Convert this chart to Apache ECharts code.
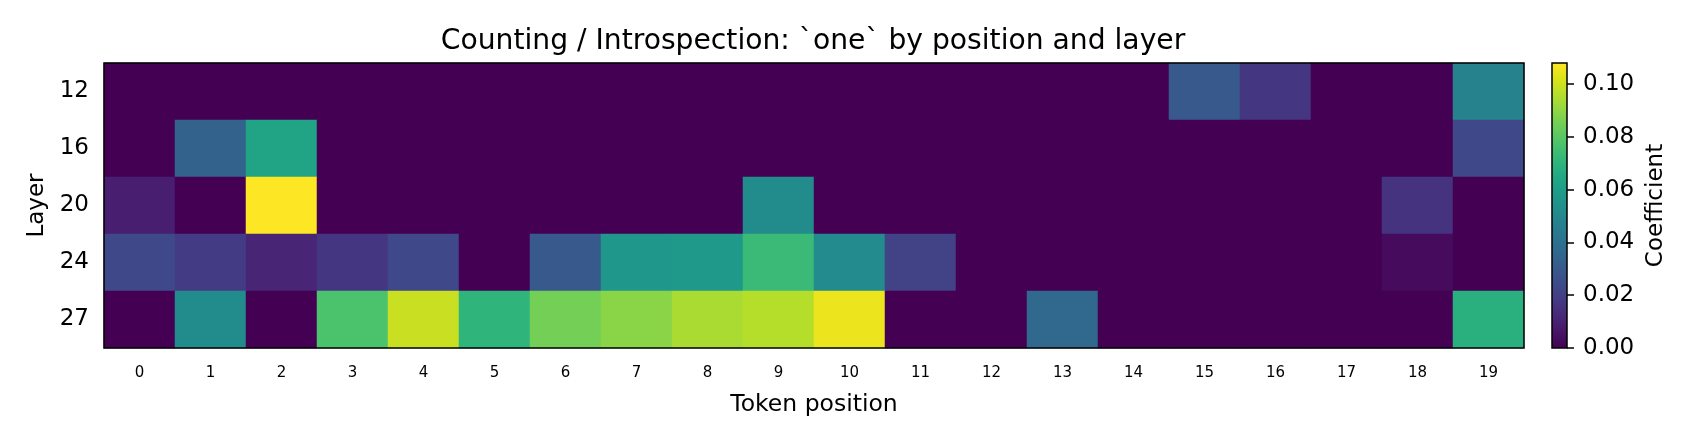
<!DOCTYPE html>
<html>
<head>
<meta charset="utf-8">
<script src="https://cdn.jsdelivr.net/npm/echarts@6/dist/echarts.min.js"></script>
<style>
html, body { margin: 0; padding: 0; background: #fff; }
#chart { width: 1700px; height: 442px; }
</style>
</head>
<body>
<div id="chart"></div>
<script>
// token positions (x) and layers (y, top to bottom)
let positions = ['0','1','2','3','4','5','6','7','8','9','10','11','12','13','14','15','16','17','18','19'];
let layers = ['12', '16', '20', '24', '27'];

// coefficient per layer, one value per token position
let layer12 = [0, 0, 0, 0, 0, 0, 0, 0, 0, 0, 0, 0, 0, 0, 0, 0.030, 0.017, 0, 0, 0.048];
let layer16 = [0, 0.034, 0.063, 0, 0, 0, 0, 0, 0, 0, 0, 0, 0, 0, 0, 0, 0, 0, 0, 0.023];
let layer20 = [0.009, 0, 0.108, 0, 0, 0, 0, 0, 0, 0.052, 0, 0, 0, 0, 0, 0, 0, 0, 0.016, 0];
let layer24 = [0.023, 0.019, 0.011, 0.017, 0.023, 0, 0.030, 0.057, 0.058, 0.073, 0.051, 0.021, 0, 0, 0, 0, 0, 0, 0.003, 0];
let layer27 = [0, 0.052, 0, 0.077, 0.099, 0.070, 0.085, 0.089, 0.094, 0.096, 0.105, 0, 0, 0.036, 0, 0, 0, 0, 0, 0.068];

let vMin = 0, vMax = 0.108;
let cbTicks = [0, 0.02, 0.04, 0.06, 0.08, 0.10];

let viridis = ['#440154','#471365','#482475','#463480','#414487','#3b528b','#355f8d','#2f6c8e',
               '#2a788e','#25848e','#21918c','#1e9c89','#22a884','#2fb47c','#44bf70','#5ec962',
               '#7ad151','#9bd93c','#bddf26','#dfe318','#fde725'];

let rows = [layer12, layer16, layer20, layer24, layer27];
let cells = [];
rows.forEach((row, y) => {
    row.forEach((v, x) => {
        cells.push([x, y, v]);
    });
});

let stops = viridis.map((c, i) => ({offset: i / (viridis.length - 1), color: c}));
let font = '"DejaVu Sans", sans-serif';

let chart = echarts.init(document.getElementById('chart'), null, {renderer: 'canvas'});
chart.setOption({
    animation: false,
    textStyle: {fontFamily: font, color: '#000'},
    graphic: [
        {
            type: 'text',
            x: 813,
            y: 41.5,
            style: {
                text: 'Counting / Introspection: `one` by position and layer',
                font: '28.2px ' + font,
                fill: '#000',
                align: 'center',
                verticalAlign: 'middle'
            }
        }
    ],
    grid: [
        {left: 104, top: 63, width: 1420, height: 285, show: true, borderColor: '#000', borderWidth: 1.5, z: 5},
        {left: 1552, top: 63, width: 15, height: 285, show: true, borderColor: '#000', borderWidth: 1.5, z: 5}
    ],
    visualMap: {
        show: false,
        seriesIndex: 0,
        min: vMin,
        max: vMax,
        inRange: {color: viridis}
    },
    xAxis: [
        {
            type: 'category',
            gridIndex: 0,
            data: positions,
            name: 'Token position',
            nameLocation: 'middle',
            nameGap: 45,
            nameTextStyle: {fontSize: 23.5, color: '#000'},
            axisLine: {show: false},
            axisTick: {alignWithLabel: true, length: 7, lineStyle: {color: '#000', width: 1.5}},
            axisLabel: {fontSize: 15, color: '#000', margin: 18}
        },
        {
            type: 'category',
            gridIndex: 1,
            data: [''],
            show: false
        }
    ],
    yAxis: [
        {
            type: 'category',
            gridIndex: 0,
            data: layers,
            inverse: true,
            name: 'Layer',
            nameLocation: 'middle',
            nameRotate: 90,
            nameGap: 55,
            nameTextStyle: {fontSize: 23, color: '#000'},
            axisLine: {show: false},
            axisTick: {alignWithLabel: true, length: 7, lineStyle: {color: '#000', width: 1.5}},
            axisLabel: {fontSize: 23, color: '#000', margin: 15}
        },
        {
            type: 'value',
            gridIndex: 1,
            position: 'right',
            min: vMin,
            max: vMax,
            name: 'Coefficient',
            nameLocation: 'middle',
            nameRotate: 90,
            nameGap: 78,
            nameTextStyle: {fontSize: 23, color: '#000'},
            splitLine: {show: false},
            axisLine: {show: false},
            axisTick: {show: true, length: 7, customValues: cbTicks, lineStyle: {color: '#000', width: 1.5}},
            axisLabel: {
                fontSize: 23,
                color: '#000',
                margin: 16,
                customValues: cbTicks,
                formatter: (v) => v.toFixed(2)
            }
        }
    ],
    series: [
        {
            name: 'Coefficient',
            type: 'heatmap',
            xAxisIndex: 0,
            yAxisIndex: 0,
            data: cells,
            itemStyle: {borderWidth: 0},
            emphasis: {disabled: true}
        },
        {
            name: 'colorbar',
            type: 'bar',
            xAxisIndex: 1,
            yAxisIndex: 1,
            barWidth: '100%',
            silent: true,
            data: [vMax],
            itemStyle: {color: new echarts.graphic.LinearGradient(0, 1, 0, 0, stops)}
        }
    ]
});
</script>
</body>
</html>
